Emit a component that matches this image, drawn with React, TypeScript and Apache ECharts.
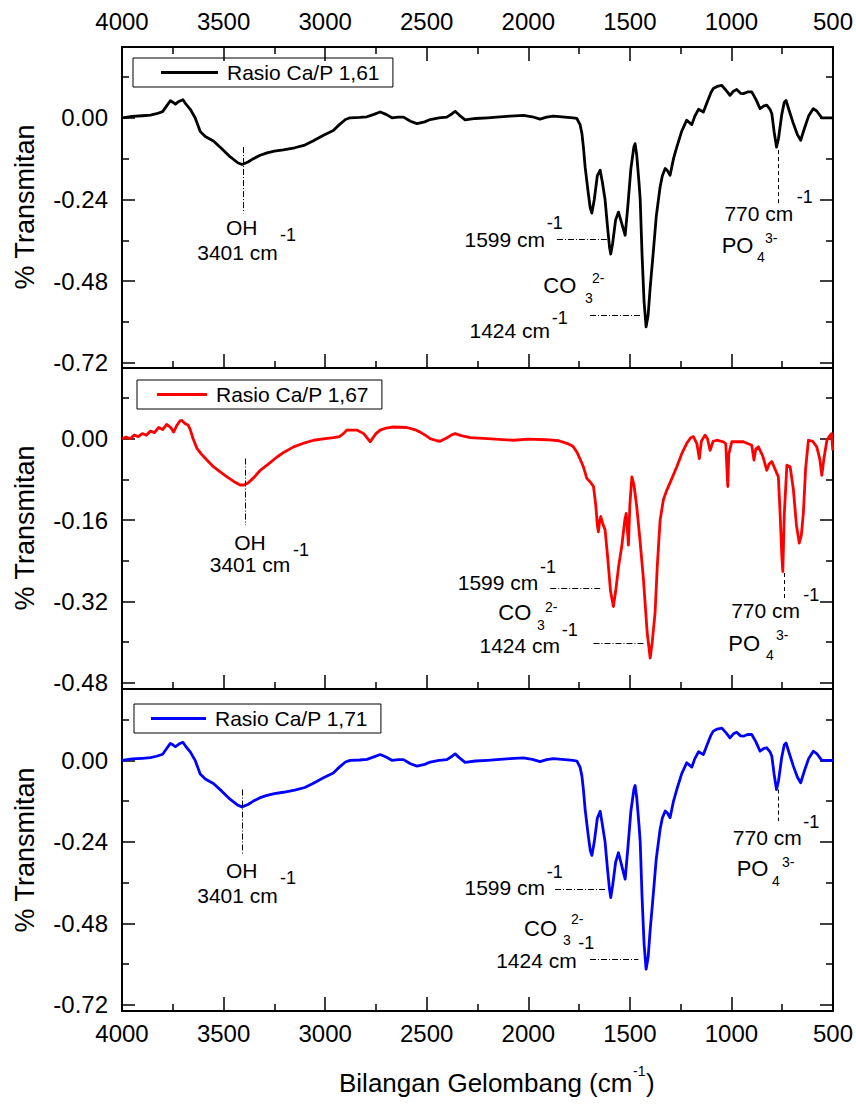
import React, { useEffect, useRef } from "react";
import * as echarts from "echarts";

const FONT = '"Liberation Sans", Arial, Helvetica, sans-serif';

// ---------- data ----------
const seriesNames = ["Rasio Ca/P 1,61", "Rasio Ca/P 1,67", "Rasio Ca/P 1,71"];
const xMajorTicks = [4000, 3500, 3000, 2500, 2000, 1500, 1000, 500];
const xMinorTicks = [3750, 3250, 2750, 2250, 1750, 1250, 750];

const blackWave = [4000,3950,3900,3860,3830,3800,3780,3762,3748,3737,3720,3700,3685,3664,3640,3615,3590,3550,3510,3467,3430,3409,3380,3353,3320,3286,3250,3206,3150,3100,3060,3008,2960,2930,2900,2877,2830,2794,2760,2729,2700,2671,2640,2614,2580,2548,2510,2483,2440,2401,2375,2360,2340,2311,2260,2200,2155,2090,2024,1980,1942,1910,1876,1820,1780,1761,1745,1736,1728,1720,1705,1695,1687,1675,1660,1646,1635,1622,1610,1600,1594,1585,1570,1556,1540,1523,1510,1495,1480,1474,1466,1455,1449,1440,1430,1420,1410,1400,1384,1370,1351,1340,1326,1315,1302,1285,1269,1245,1220,1195,1180,1162,1138,1120,1100,1089,1070,1047,1025,1007,990,974,955,941,920,900,880,859,840,826,810,801,790,778,768,752,740,731,715,695,675,659,640,620,597,580,555,530,506,500];
const blackVal = [0.000,0.004,0.006,0.008,0.012,0.018,0.035,0.050,0.045,0.040,0.048,0.053,0.040,0.025,0.000,-0.040,-0.055,-0.068,-0.090,-0.115,-0.132,-0.137,-0.130,-0.120,-0.110,-0.103,-0.098,-0.094,-0.088,-0.080,-0.068,-0.051,-0.037,-0.020,-0.005,0.000,0.001,0.003,0.010,0.017,0.010,0.000,0.002,0.002,-0.010,-0.017,-0.012,-0.005,0.000,0.002,0.012,0.019,0.008,-0.006,-0.002,0.000,0.002,0.005,0.007,0.003,-0.004,0.002,0.005,0.002,0.000,-0.002,-0.020,-0.046,-0.090,-0.145,-0.220,-0.265,-0.280,-0.240,-0.170,-0.154,-0.190,-0.240,-0.320,-0.380,-0.400,-0.370,-0.300,-0.277,-0.310,-0.345,-0.260,-0.150,-0.085,-0.076,-0.110,-0.190,-0.240,-0.400,-0.540,-0.614,-0.580,-0.500,-0.390,-0.290,-0.203,-0.170,-0.149,-0.155,-0.169,-0.120,-0.086,-0.040,-0.007,-0.020,0.005,0.025,0.017,0.045,0.075,0.086,0.092,0.095,0.080,0.066,0.078,0.083,0.072,0.071,0.076,0.076,0.055,0.027,0.035,0.037,0.025,0.012,-0.040,-0.086,-0.060,0.010,0.045,0.051,0.020,-0.017,-0.050,-0.066,-0.030,0.005,0.027,0.020,0.000,0.000,0.000,0.000];

const redWave = [4000,3980,3960,3940,3920,3900,3880,3860,3840,3820,3800,3780,3760,3746,3730,3715,3705,3690,3675,3664,3650,3631,3610,3582,3550,3520,3483,3450,3418,3400,3380,3350,3319,3280,3237,3200,3155,3100,3057,3000,2959,2930,2910,2893,2844,2810,2778,2750,2729,2700,2663,2598,2560,2532,2500,2483,2450,2434,2400,2375,2360,2330,2286,2200,2073,2000,1909,1850,1810,1780,1761,1745,1729,1712,1695,1679,1668,1660,1655,1648,1643,1635,1622,1610,1595,1581,1570,1555,1540,1525,1518,1512,1507,1500,1490,1480,1466,1450,1433,1415,1400,1390,1376,1365,1351,1335,1318,1295,1269,1245,1220,1200,1187,1170,1158,1148,1130,1118,1105,1090,1072,1040,1028,1022,1018,1013,998,941,900,889,880,867,845,826,815,801,785,769,760,752,747,740,727,711,695,680,666,656,646,635,621,600,580,565,555,545,530,514,507,501];
const redVal = [0.000,0.003,0.000,0.007,0.004,0.010,0.007,0.015,0.012,0.022,0.018,0.028,0.022,0.013,0.026,0.035,0.036,0.030,0.027,0.018,0.000,-0.019,-0.030,-0.042,-0.055,-0.064,-0.075,-0.084,-0.091,-0.091,-0.087,-0.076,-0.062,-0.050,-0.036,-0.026,-0.016,-0.008,-0.003,0.000,0.002,0.004,0.010,0.017,0.017,0.010,-0.006,0.010,0.017,0.021,0.023,0.022,0.018,0.013,0.005,0.000,-0.004,-0.005,0.002,0.008,0.010,0.006,0.002,0.000,-0.003,-0.001,-0.002,-0.004,-0.009,-0.015,-0.026,-0.040,-0.055,-0.078,-0.085,-0.094,-0.130,-0.170,-0.183,-0.160,-0.153,-0.165,-0.179,-0.230,-0.300,-0.330,-0.300,-0.250,-0.212,-0.160,-0.147,-0.180,-0.209,-0.130,-0.075,-0.090,-0.134,-0.200,-0.277,-0.380,-0.431,-0.400,-0.343,-0.250,-0.160,-0.120,-0.101,-0.080,-0.055,-0.030,-0.009,0.002,0.004,-0.010,-0.039,-0.005,0.007,0.000,-0.023,-0.005,-0.003,-0.006,-0.010,-0.060,-0.094,-0.030,-0.006,-0.006,-0.013,-0.042,-0.020,-0.016,-0.035,-0.062,-0.050,-0.045,-0.060,-0.075,-0.150,-0.230,-0.261,-0.150,-0.052,-0.055,-0.100,-0.170,-0.205,-0.190,-0.147,-0.060,-0.003,-0.005,-0.016,-0.040,-0.072,-0.040,-0.003,0.007,0.010,-0.023];

const blueWave = [4000,3950,3900,3860,3830,3800,3780,3762,3748,3737,3720,3700,3685,3664,3640,3615,3590,3550,3510,3467,3430,3409,3380,3353,3320,3286,3250,3206,3150,3100,3060,3008,2960,2930,2900,2877,2830,2794,2760,2729,2700,2671,2640,2614,2580,2548,2510,2483,2440,2401,2375,2360,2340,2311,2260,2200,2155,2090,2024,1980,1942,1910,1876,1820,1780,1761,1745,1736,1728,1720,1705,1695,1687,1675,1660,1646,1635,1622,1610,1600,1594,1585,1570,1556,1540,1523,1510,1495,1480,1474,1466,1455,1449,1440,1430,1420,1410,1400,1384,1370,1351,1340,1326,1315,1302,1285,1269,1245,1220,1195,1180,1162,1138,1120,1100,1089,1070,1047,1025,1007,990,974,955,941,920,900,880,859,840,826,810,801,790,778,768,752,740,731,715,695,675,659,640,620,597,580,555,530,506,500];
const blueVal = [0.000,0.004,0.006,0.008,0.012,0.018,0.035,0.050,0.045,0.040,0.048,0.053,0.040,0.025,0.000,-0.040,-0.055,-0.068,-0.090,-0.115,-0.132,-0.137,-0.130,-0.120,-0.110,-0.103,-0.098,-0.094,-0.088,-0.080,-0.068,-0.051,-0.037,-0.020,-0.005,0.000,0.001,0.003,0.010,0.017,0.010,0.000,0.002,0.002,-0.010,-0.017,-0.012,-0.005,0.000,0.002,0.012,0.019,0.008,-0.006,-0.002,0.000,0.002,0.005,0.007,0.003,-0.004,0.002,0.005,0.002,0.000,-0.002,-0.020,-0.046,-0.090,-0.145,-0.220,-0.265,-0.280,-0.240,-0.170,-0.150,-0.190,-0.240,-0.320,-0.380,-0.404,-0.370,-0.300,-0.272,-0.310,-0.350,-0.260,-0.150,-0.085,-0.074,-0.110,-0.190,-0.240,-0.400,-0.540,-0.615,-0.580,-0.500,-0.390,-0.290,-0.203,-0.170,-0.149,-0.155,-0.169,-0.120,-0.086,-0.040,-0.007,-0.020,0.005,0.025,0.017,0.045,0.075,0.086,0.092,0.095,0.080,0.066,0.078,0.083,0.072,0.071,0.076,0.076,0.055,0.027,0.035,0.037,0.025,0.012,-0.040,-0.086,-0.060,0.010,0.045,0.051,0.020,-0.017,-0.050,-0.066,-0.030,0.005,0.027,0.020,0.000,0.000,0.000,0.000];

const yMajors = [
  [-0.72, -0.48, -0.24, 0],
  [-0.48, -0.32, -0.16, 0],
  [-0.72, -0.48, -0.24, 0],
];
const yMinors = [
  [-0.6, -0.36, -0.12, 0.12],
  [-0.4, -0.24, -0.08, 0.08],
  [-0.6, -0.36, -0.12, 0.12],
];
const yRanges = [
  [-0.735, 0.208],
  [-0.492, 0.139],
  [-0.738, 0.21],
];

// annotation guide lines in data coordinates: [w1, v1, w2, v2, kind]
const guideLines: any[][] = [
  [[3404, -0.086, 3404, -0.281, "dd"], [1859, -0.358, 1613, -0.358, "dd"], [1696, -0.58, 1449, -0.58, "dd"], [769, -0.095, 769, -0.252, "d"]],
  [[3393, -0.039, 3393, -0.17, "dd"], [1892, -0.293, 1646, -0.293, "dd"], [1679, -0.402, 1433, -0.402, "dd"], [739, -0.264, 739, -0.317, "d"]],
  [[3408, -0.086, 3408, -0.28, "dd"], [1868, -0.38, 1622, -0.38, "dd"], [1696, -0.586, 1458, -0.586, "dd"], [769, -0.086, 769, -0.179, "d"]],
];

// ---------- layout ----------
const GRID_LEFT = 122;
const GRID_W = 711;
const grids = [
  { top: 47, height: 321 },
  { top: 368, height: 321 },
  { top: 689, height: 322 },
];
const X_AXIS_OF_PANEL = [0, 2, 3];
const MAJOR_LEN = 14;
const MINOR_LEN = 7;

// annotation texts: [text, x, y, size, align]
const annotations: any[] = [
  ["OH", 241.7, 227, 21, "center"], ["3401 cm", 237.5, 252, 21, "center"], ["-1", 280, 235, 18, "left"],
  ["1599 cm", 545, 239, 21, "right"], ["-1", 546.7, 223, 18, "left"],
  ["CO", 543.3, 285, 22, "left"], ["3", 585, 298, 14, "left"], ["2-", 592, 278, 14, "left"],
  ["1424 cm", 550, 330, 21, "right"], ["-1", 551.7, 318, 18, "left"],
  ["770 cm", 793.3, 213, 21, "right"], ["-1", 796.7, 197, 18, "left"],
  ["PO", 721.7, 245, 22, "left"], ["4", 757, 257, 14, "left"], ["3-", 765, 238, 14, "left"],

  ["OH", 250, 542, 21, "center"], ["3401 cm", 250, 564, 21, "center"], ["-1", 293, 550, 18, "left"],
  ["1599 cm", 538.3, 582, 21, "right"], ["-1", 540, 567, 18, "left"],
  ["CO", 498.3, 612, 22, "left"], ["3", 537, 625, 14, "left"], ["2-", 545, 607, 14, "left"],
  ["1424 cm", 560, 645, 21, "right"], ["-1", 561.7, 630, 18, "left"],
  ["770 cm", 800, 610, 21, "right"], ["-1", 803.3, 595, 18, "left"],
  ["PO", 728.3, 643, 22, "left"], ["4", 766, 655, 14, "left"], ["3-", 776, 635, 14, "left"],

  ["OH", 241.7, 870, 21, "center"], ["3401 cm", 237.5, 895, 21, "center"], ["-1", 280, 878, 18, "left"],
  ["1599 cm", 545, 887, 21, "right"], ["-1", 546.7, 872, 18, "left"],
  ["CO", 524, 928, 22, "left"], ["3", 563, 940, 14, "left"], ["2-", 571, 919, 14, "left"],
  ["1424 cm", 576.7, 960, 21, "right"], ["-1", 578.3, 943, 18, "left"],
  ["770 cm", 801.7, 837, 21, "right"], ["-1", 803.3, 822, 18, "left"],
  ["PO", 736.7, 868, 22, "left"], ["4", 772, 881, 14, "left"], ["3-", 782, 862, 14, "left"],
];

function txt(text: string, x: number, y: number, size: number, align: string, rotation = 0) {
  return {
    type: "text",
    x,
    y,
    rotation,
    silent: true,
    style: {
      text,
      fill: "#000",
      font: `${size}px ${FONT}`,
      fontSize: size,
      fontFamily: FONT,
      textAlign: align,
      align,
      textVerticalAlign: "middle",
      verticalAlign: "middle",
    },
  };
}

// x tick segments for a panel, in that panel's data coordinates
function tickSegments(p: number) {
  const [yMin, yMax] = yRanges[p];
  const perPx = (yMax - yMin) / grids[p].height;
  const segs: any[] = [];
  const all: [number, number][] = [
    ...xMajorTicks.map((w) => [w, MAJOR_LEN] as [number, number]),
    ...xMinorTicks.map((w) => [w, MINOR_LEN] as [number, number]),
  ];
  all.forEach(([w, len]) => {
    const style = { color: "#000", width: 1.5, type: "solid" };
    segs.push([{ coord: [w, yMin + 0.0001], lineStyle: style }, { coord: [w, yMin + len * perPx] }]);
    if (p === 0) {
      segs.push([{ coord: [w, yMax - 0.0001], lineStyle: style }, { coord: [w, yMax - len * perPx] }]);
    }
  });
  return segs;
}

function buildOption() {
  const tickLine = { color: "#000", width: 1.5 };
  const gridList: any[] = grids.map((g) => ({
    left: GRID_LEFT,
    width: GRID_W,
    top: g.top,
    height: g.height,
    show: true,
    borderColor: "#000",
    borderWidth: 2,
    backgroundColor: "transparent",
    containLabel: false,
  }));
  const xAxes: any[] = [];
  const yAxes: any[] = [];
  const xBase = (gridIndex: number, position: string, showLabel: boolean, margin: number) => ({
    type: "value",
    gridIndex,
    position,
    min: 500,
    max: 4000,
    interval: 500,
    inverse: true,
    axisLine: { show: false, onZero: false },
    splitLine: { show: false },
    axisTick: { show: false },
    axisLabel: {
      show: showLabel,
      fontSize: 24,
      fontFamily: FONT,
      color: "#000",
      margin,
      showMinLabel: true,
      showMaxLabel: true,
      formatter: (v: number) => String(v),
    },
  });
  xAxes.push(xBase(0, "bottom", false, 10));
  xAxes.push(xBase(0, "top", true, 14));
  xAxes.push(xBase(1, "bottom", false, 10));
  xAxes.push(xBase(2, "bottom", true, 10));

  for (let g = 0; g < 3; g++) {
    const [min, max] = yRanges[g];
    const common = {
      type: "value",
      gridIndex: g,
      min,
      max,
      axisLine: { show: false },
      splitLine: { show: false },
    };
    yAxes.push({
      ...common,
      position: "left",
      axisTick: { show: true, inside: true, length: 13, lineStyle: tickLine, customValues: yMajors[g] },
      axisLabel: {
        show: true,
        customValues: yMajors[g],
        fontSize: 24,
        fontFamily: FONT,
        color: "#000",
        margin: 14,
        formatter: (v: number) => (Math.abs(v) < 1e-9 ? "0.00" : v.toFixed(2)),
      },
    });
    yAxes.push({
      ...common,
      position: "left",
      axisTick: { show: true, inside: true, length: 7, lineStyle: tickLine, customValues: yMinors[g] },
      axisLabel: { show: false },
    });
    yAxes.push({
      ...common,
      position: "right",
      axisTick: { show: true, inside: true, length: 13, lineStyle: tickLine, customValues: yMajors[g] },
      axisLabel: { show: false },
    });
    yAxes.push({
      ...common,
      position: "right",
      axisTick: { show: true, inside: true, length: 7, lineStyle: tickLine, customValues: yMinors[g] },
      axisLabel: { show: false },
    });
  }

  const waves = [blackWave, redWave, blueWave];
  const vals = [blackVal, redVal, blueVal];
  const colors = ["#000000", "#ff0000", "#0000ff"];

  const series: any[] = waves.map((w, i) => ({
    type: "line",
    name: seriesNames[i],
    xAxisIndex: X_AXIS_OF_PANEL[i],
    yAxisIndex: i * 4,
    data: w.map((x, k) => [x, vals[i][k]]),
    symbol: "none",
    showSymbol: false,
    lineStyle: { color: colors[i], width: 2.8, join: "round" },
    itemStyle: { color: colors[i] },
    z: 3,
    markLine: {
      silent: true,
      symbol: ["none", "none"],
      label: { show: false },
      animation: false,
      data: [
        ...guideLines[i].map((l) => [
          {
            coord: [l[0], l[1]],
            lineStyle: {
              color: "#000",
              width: 1,
              type: l[4] === "dd" ? [6, 2, 1, 2] : [4, 3],
            },
          },
          { coord: [l[2], l[3]] },
        ]),
        ...tickSegments(i),
      ],
    },
  }));

  const legendTops = [58, 380, 704];
  const legendLefts = [133, 137, 134];
  const legendPadLeft = [28, 20, 17];
  const legendItemW = [57, 50, 55];
  const legends = seriesNames.map((n, i) => ({
    data: [{ name: n, icon: "rect" }],
    left: legendLefts[i],
    top: legendTops[i],
    orient: "horizontal",
    borderColor: "#000",
    borderWidth: 1,
    borderRadius: 0,
    backgroundColor: "#fff",
    padding: [4, 13, 4, legendPadLeft[i]],
    itemWidth: legendItemW[i],
    itemHeight: 3,
    selectedMode: false,
    textStyle: { fontSize: 21, fontFamily: FONT, color: "#000", padding: [0, 0, 0, 4] },
  }));

  const graphics: any[] = [];
  const centers = [207, 528, 850];
  centers.forEach((c) => graphics.push(txt("% Transmitan", 25, c, 27, "center", Math.PI / 2)));
  graphics.push(txt("Bilangan Gelombang (cm", 339, 1083, 26, "left"));
  graphics.push(txt("-1", 633, 1071, 14, "left"));
  graphics.push(txt(")", 646, 1083, 26, "left"));
  annotations.forEach((a) => graphics.push(txt(a[0], a[1], a[2], a[3], a[4])));

  return {
    animation: false,
    backgroundColor: "#fff",
    textStyle: { fontFamily: FONT },
    grid: gridList,
    legend: legends,
    xAxis: xAxes,
    yAxis: yAxes,
    series,
    graphic: { elements: graphics },
  };
}

export default function App() {
  const ref = useRef<HTMLDivElement>(null);
  useEffect(() => {
    if (!ref.current) return;
    const chart = echarts.init(ref.current, null, { renderer: "svg" });
    chart.setOption(buildOption() as any);
    return () => chart.dispose();
  }, []);
  return (
    <div
      ref={ref}
      style={{ position: "fixed", left: 0, top: 0, width: 856, height: 1104, background: "#fff" }}
    />
  );
}
